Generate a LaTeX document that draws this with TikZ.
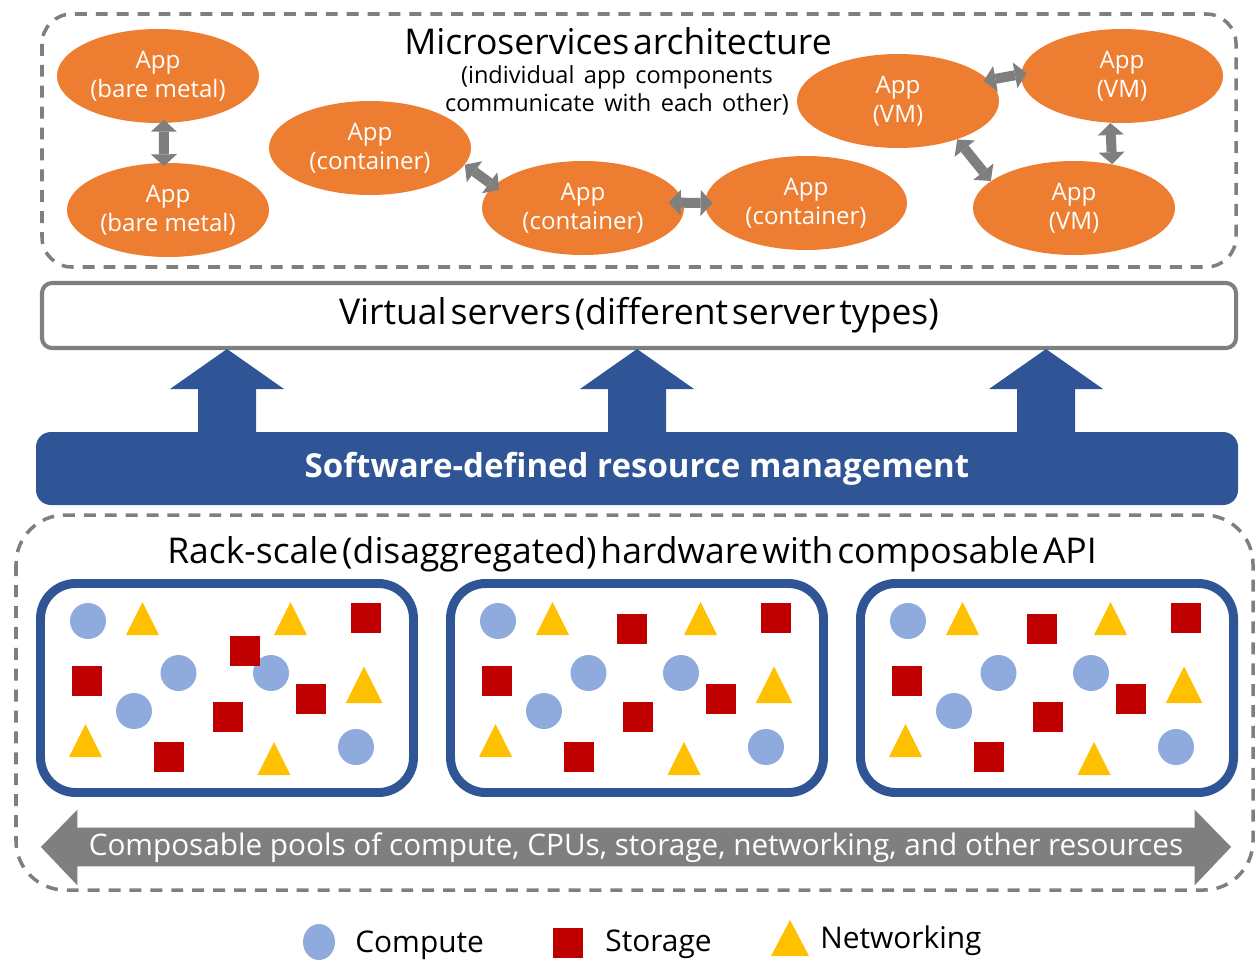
\documentclass[tikz,border=0pt]{standalone}
\usepackage{fontspec}
\setmainfont{Open Sans}
\usetikzlibrary{shapes.geometric,arrows.meta,calc}
\definecolor{appor}{HTML}{ED7D31}
\definecolor{lgray}{HTML}{7F7F7F}
\definecolor{sdblue}{HTML}{2F5597}
\definecolor{cpblue}{HTML}{8FAADC}
\definecolor{stred}{HTML}{C00000}
\definecolor{nwyel}{HTML}{FFC000}
\def\pxu{0.02cm}
\newcommand{\bigfont}{\fontsize{20.2}{24}\selectfont\spaceskip=0.11em plus 0.02em\relax}
\newcommand{\subfont}{\fontsize{13.4}{16}\selectfont\spaceskip=0.4em plus 0.1em\relax}
\tikzset{
  dbox/.style={draw=lgray, line width=2pt, dash pattern=on 6.8pt off 5.1pt},
  app/.style={ellipse, fill=appor, text=white, minimum width=202*\pxu, minimum height=94*\pxu,
    inner sep=0pt, align=center, font=\fontsize{13.7}{16.5}\selectfont},
  dbl/.style={draw=lgray, line width=5.7pt,
    {Triangle[length=6.8pt,width=14.8pt,line width=0pt]}-{Triangle[length=6.8pt,width=14.8pt,line width=0pt]}},
  bigtxt/.style={font=\bigfont, inner sep=0pt},
  rackbox/.style={draw=sdblue, line width=5.1pt, rounded corners=20pt},
  cpt/.style={fill=cpblue},
  sto/.style={fill=stred},
  nwk/.style={fill=nwyel},
  legtxt/.style={font=\fontsize{17}{20}\selectfont, inner sep=0pt, anchor=west}
}
\newcommand{\sq}[2]{\fill[sto] (#1-15,#2-15) rectangle (#1+15,#2+15);}
\newcommand{\tri}[3]{\fill[nwk] (#1-#3/2,#2) -- (#1+#3/2,#2) -- (#1,#2-#3) -- cycle;}
\newcommand{\cir}[2]{\fill[cpt] (#1,#2) circle[radius=18];}
\newcommand{\rackcontent}[1]{%
  \begin{scope}[shift={(#1,0)}]
    \draw[rackbox] (4.5,583.5) rectangle (377.5,792.5);
    \cir{52}{621}\cir{142.5}{673}\cir{235}{673}\cir{98}{711}\cir{320}{747}
    \sq{330}{618}\sq{51}{681}\sq{275}{699}\sq{192}{717}\sq{133}{757}
    \tri{106.5}{635}{33}\tri{254.5}{635}{33}\tri{49.5}{757}{33}\tri{238}{775}{33}
    \tri{328}{703}{36.5}
  \end{scope}}
\newcommand{\blueup}[1]{\fill[sdblue] (#1-29,432) -- (#1-29,389) -- (#1-57,389) -- (#1,349) -- (#1+57,389) -- (#1+29,389) -- (#1+29,432) -- cycle;}
\begin{document}
\begin{tikzpicture}[x=0.02cm,y=-0.02cm]
\useasboundingbox (0,0) rectangle (1256,960);

% microservices dashed frame
\draw[dbox, rounded corners=17pt] (42,14) rectangle (1236,267);
\node[bigtxt] (title) at (618,41) {Microservices architecture};
\node[inner sep=0pt] (sub) at (617,92)
  {\subfont\begin{tabular}{@{}c@{}}(individual app components\\communicate with each other)\end{tabular}};

\node[app] (bm1) at (158,76) {App\\(bare metal)};
\node[app] (bm2) at (168,210) {App\\(bare metal)};
\node[app] (c1) at (370,148) {App\\(container)};
\node[app] (c2) at (583,208) {App\\(container)};
\node[app] (c3) at (806,203) {App\\(container)};
\node[app] (vm1) at (898,101) {App\\(VM)};
\node[app] (vm2) at (1122,76) {App\\(VM)};
\node[app] (vm3) at (1074,208) {App\\(VM)};

\draw[dbl, shorten <=-2pt, shorten >=-2pt] (bm1.-83) -- (bm2.95);
\draw[dbl, shorten >=-4pt] (c1.-10) -- (c2.166);
\draw[dbl, shorten <=-8.5pt, shorten >=-4.5pt] (c2.3) -- (c3.180);
\draw[dbl, shorten <=-3pt, shorten >=-3.5pt] (vm1.13) -- (vm2.179);
\draw[dbl] (vm1.-33) -- (vm3.162);
\draw[dbl] (vm2.-104) -- (vm3.49);

% virtual servers
\node[draw=lgray, line width=2.3pt, rounded corners=5.7pt, minimum width=1194*\pxu,
  minimum height=65*\pxu, inner sep=0pt, font=\bigfont] (vs) at (639,315.5)
  {\raisebox{-1pt}{Virtual servers (different server types)}};

% software-defined bar
\node[fill=sdblue, rounded corners=8.5pt, minimum width=1202*\pxu, minimum height=73*\pxu,
  inner sep=0pt, text=white, font=\fontsize{18.8}{22}\selectfont\bfseries] (sdr) at (637,468.5)
  {Software-defined resource management};

\blueup{227}
\blueup{637}
\blueup{1046}

% rack-scale dashed frame
\draw[dbox, rounded corners=28pt] (16,515) rectangle (1253,890);
\node[bigtxt] (rack) at (632,554) {Rack-scale (disaggregated) hardware with composable API};

\rackcontent{36}
\fill[sto] (245-15,651-15) rectangle (245+15,651+15);
\rackcontent{446}
\fill[sto] (632-15,629-15) rectangle (632+15,629+15);
\rackcontent{856}
\fill[sto] (1042-15,629-15) rectangle (1042+15,629+15);

% composable pools arrow
\filldraw[fill=lgray, draw=white, line width=0.6pt] (40,847) -- (78,808) -- (78,827) -- (1194,827) -- (1194,808)
  -- (1232,847) -- (1194,887) -- (1194,867) -- (78,867) -- (78,887) -- cycle;
\node[text=white, font=\fontsize{16.9}{20}\selectfont, inner sep=0pt] (pools) at (636,848)
  {Composable pools of compute, CPUs, storage, networking, and other resources};

% legend
\fill[cpt] (319,942) ellipse[x radius=16, y radius=18];
\node[legtxt] (lc) at (355,945) {Compute};
\fill[sto] (553,928) rectangle (583,958);
\node[legtxt] (ls) at (605,944) {Storage};
\fill[nwk] (771,956) -- (809,956) -- (790,920) -- cycle;
\node[legtxt] (ln) at (820,941) {Networking};
\end{tikzpicture}
\end{document}
